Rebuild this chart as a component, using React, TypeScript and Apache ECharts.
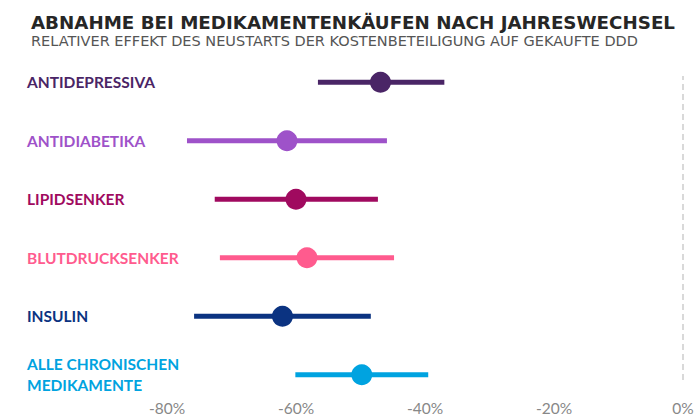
import React, { useEffect, useRef } from "react";
import * as echarts from "echarts";

const categories = [
  "ANTIDEPRESSIVA",
  "ANTIDIABETIKA",
  "LIPIDSENKER",
  "BLUTDRUCKSENKER",
  "INSULIN",
  "ALLE CHRONISCHEN\nMEDIKAMENTE",
];
const estimates = [-46.9, -61.4, -60.0, -58.3, -62.1, -49.8];
const lowerBounds = [-56.6, -76.9, -72.6, -71.8, -75.8, -60.1];
const upperBounds = [-37.0, -45.9, -47.3, -44.8, -48.4, -39.5];
const colors = ["#4a2566", "#9e52c9", "#a00a5f", "#ff5b8e", "#0b3381", "#00a3e0"];
const xTicks = [-80, -60, -40, -20, 0];

const TITLE = "ABNAHME BEI MEDIKAMENTENKÄUFEN NACH JAHRESWECHSEL";
const SUBTITLE = "RELATIVER EFFEKT DES NEUSTARTS DER KOSTENBETEILIGUNG AUF GEKAUFTE DDD";

export default function App() {
  const ref = useRef<HTMLDivElement>(null);
  useEffect(() => {
    if (!ref.current) return;
    const chart = echarts.init(ref.current, undefined, { renderer: "svg" });
    const font = "Lato, 'Noto Sans', sans-serif";
    const lineSeries = categories.map((c, i) => ({
      type: "line",
      xAxisIndex: 0,
      yAxisIndex: 0,
      symbol: "none",
      silent: true,
      lineStyle: { color: colors[i], width: 5, cap: "butt" },
      data: [
        [lowerBounds[i], c],
        [upperBounds[i], c],
      ],
      z: 2,
    }));
    const option = {
      animation: false,
      title: {
        text: TITLE,
        subtext: SUBTITLE,
        left: 26,
        top: 8,
        itemGap: 2,
        textStyle: { fontFamily: "'DejaVu Sans', sans-serif", fontSize: 18.25, fontWeight: "bold", color: "#262626" },
        subtextStyle: { fontFamily: "'DejaVu Sans', sans-serif", fontSize: 14.5, fontWeight: "normal", color: "#555" },
      },
      grid: [
        { left: 167, right: 17, top: 53, bottom: 13 },
        { left: 167, right: 17, top: 76, bottom: 37 },
      ],
      xAxis: [
        {
          type: "value",
          gridIndex: 0,
          min: -80,
          max: 0,
          interval: 20,
          show: false,
        },
        {
          type: "value",
          gridIndex: 1,
          min: xTicks[0],
          max: xTicks[xTicks.length - 1],
          interval: 20,
          axisLine: { show: false },
          axisTick: { show: false },
          splitLine: { show: false },
          axisLabel: {
            margin: 20,
            fontFamily: font,
            fontSize: 15.5,
            color: "#888",
            formatter: (v: number) => `${v}%`,
          },
        },
      ],
      yAxis: [
        {
          type: "category",
          gridIndex: 0,
          inverse: true,
          data: categories,
          axisLine: { show: false },
          axisTick: { show: false },
          splitLine: { show: false },
          axisLabel: {
            margin: 140,
            align: "left",
            fontFamily: font,
            fontSize: 15.5,
            fontWeight: "bold",
            lineHeight: 21,
            color: (_v: string, idx: number) => colors[idx],
          },
        },
        {
          type: "value",
          gridIndex: 1,
          show: false,
          min: 0,
          max: 1,
        },
      ],
      series: [
        ...lineSeries,
        {
          type: "scatter",
          xAxisIndex: 0,
          yAxisIndex: 0,
          symbolSize: 21,
          silent: true,
          z: 3,
          data: categories.map((c, i) => ({
            value: [estimates[i], c],
            itemStyle: { color: colors[i], opacity: 1 },
          })),
        },
        {
          type: "line",
          xAxisIndex: 1,
          yAxisIndex: 1,
          data: [],
          markLine: {
            silent: true,
            symbol: "none",
            label: { show: false },
            lineStyle: { color: "#d9d9d9", width: 2, type: [6, 4] },
            data: [{ xAxis: 0 }],
          },
        },
      ],
    };
    chart.setOption(option as any);
    return () => chart.dispose();
  }, []);
  return (
    <div
      ref={ref}
      style={{ position: "absolute", left: 0, top: 0, width: 700, height: 417 }}
    />
  );
}
